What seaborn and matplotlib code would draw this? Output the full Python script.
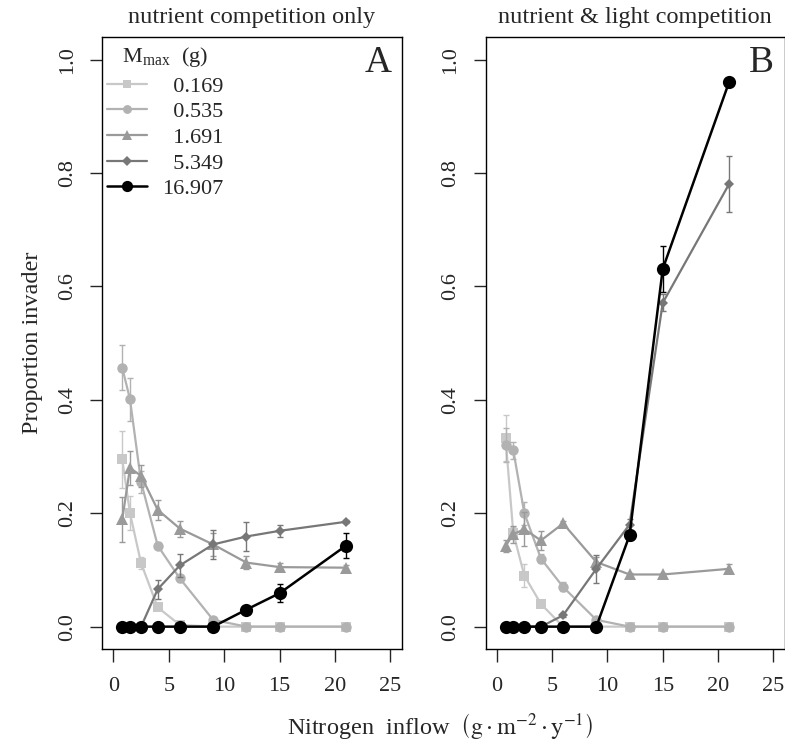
import numpy as np
import pandas as pd
import matplotlib.pyplot as plt
import seaborn as sns
from matplotlib.lines import Line2D

# nitrogen inflow levels (g m-2 y-1)
nitrogen = [0.8, 1.5, 2.5, 4, 6, 9, 12, 15, 21]
mmax_labels = ["0.169", "0.535", "1.691", "5.349", "16.907"]

# panel A: nutrient competition only
a_0169 = [0.295, 0.200, 0.112, 0.034, 0.003, 0.0, 0.0, 0.0, 0.0]
a_0535 = [0.457, 0.401, 0.255, 0.143, 0.085, 0.012, 0.0, 0.0, 0.0]
a_1691 = [0.189, 0.280, 0.266, 0.206, 0.173, 0.145, 0.113, 0.105, 0.104]
a_5349 = [0.0, 0.0, 0.0, 0.066, 0.108, 0.145, 0.159, 0.169, 0.185]
a_16907 = [0.0, 0.0, 0.0, 0.0, 0.0, 0.0, 0.030, 0.059, 0.143]
a_0169_se = [0.05, 0.03, 0.01, 0.005, 0.0, 0.0, 0.0, 0.0, 0.0]
a_0535_se = [0.04, 0.038, 0.02, 0.006, 0.006, 0.003, 0.0, 0.0, 0.0]
a_1691_se = [0.04, 0.03, 0.02, 0.018, 0.014, 0.02, 0.012, 0.007, 0.004]
a_5349_se = [0.0, 0.0, 0.0, 0.017, 0.02, 0.025, 0.025, 0.011, 0.003]
a_16907_se = [0.0, 0.0, 0.0, 0.0, 0.0, 0.0, 0.005, 0.016, 0.022]

# panel B: nutrient & light competition
b_0169 = [0.333, 0.165, 0.090, 0.040, 0.0, 0.0, 0.0, 0.0, 0.0]
b_0535 = [0.321, 0.311, 0.200, 0.120, 0.070, 0.012, 0.0, 0.0, 0.0]
b_1691 = [0.142, 0.163, 0.172, 0.152, 0.182, 0.114, 0.092, 0.092, 0.102]
b_5349 = [0.0, 0.0, 0.0, 0.0, 0.020, 0.102, 0.180, 0.571, 0.781]
b_16907 = [0.0, 0.0, 0.0, 0.0, 0.0, 0.0, 0.161, 0.631, 0.961]
b_0169_se = [0.04, 0.01, 0.02, 0.005, 0.0, 0.0, 0.0, 0.0, 0.0]
b_0535_se = [0.03, 0.015, 0.02, 0.008, 0.008, 0.003, 0.0, 0.0, 0.0]
b_1691_se = [0.01, 0.015, 0.03, 0.017, 0.005, 0.008, 0.003, 0.003, 0.008]
b_5349_se = [0.0, 0.0, 0.0, 0.0, 0.003, 0.025, 0.01, 0.015, 0.05]
b_16907_se = [0.0, 0.0, 0.0, 0.0, 0.0, 0.0, 0.008, 0.04, 0.006]

panel_titles = ["nutrient competition only", "nutrient & light competition"]
panel_letters = ["A", "B"]

# long table
rows = []
for panel, series, errs in [
    ("A", [a_0169, a_0535, a_1691, a_5349, a_16907],
     [a_0169_se, a_0535_se, a_1691_se, a_5349_se, a_16907_se]),
    ("B", [b_0169, b_0535, b_1691, b_5349, b_16907],
     [b_0169_se, b_0535_se, b_1691_se, b_5349_se, b_16907_se]),
]:
    for lab, vals, se in zip(mmax_labels, series, errs):
        for x, v, e in zip(nitrogen, vals, se):
            rows.append({"panel": panel, "mmax": lab, "nitrogen": x,
                         "proportion": v, "se": e})
df = pd.DataFrame(rows)

colors = {"0.169": "#c8c8c8", "0.535": "#b2b2b2", "1.691": "#9a9a9a",
          "5.349": "#777777", "16.907": "#000000"}
markers = {"0.169": "s", "0.535": "o", "1.691": "^", "5.349": "D", "16.907": "o"}
msizes = {"0.169": 7.2, "0.535": 7.5, "1.691": 8.5, "5.349": 5.5, "16.907": 9.5}
lwidths = {"0.169": 1.6, "0.535": 1.6, "1.691": 1.6, "5.349": 1.6, "16.907": 1.8}

sns.set_style("ticks")
plt.rcParams["font.family"] = ["Liberation Serif", "DejaVu Serif"]
plt.rcParams["mathtext.fontset"] = "stix"
fs = 16      # ticks, legend
fs_lab = 17.5  # titles, axis labels

fig = plt.figure(figsize=(7.85, 7.42), dpi=100)
ax_a = fig.add_axes([0.1303, 0.1249, 0.3812, 0.8252])
ax_b = fig.add_axes([0.6186, 0.1249, 0.3808, 0.8252])

for ax, panel, title, letter in zip([ax_a, ax_b], ["A", "B"], panel_titles, panel_letters):
    for i, lab in enumerate(mmax_labels):
        sub = df[(df["panel"] == panel) & (df["mmax"] == lab)]
        sns.lineplot(data=sub, x="nitrogen", y="proportion", color=colors[lab],
                     marker=markers[lab], markersize=msizes[lab], markeredgewidth=0,
                     linewidth=lwidths[lab], errorbar=None, legend=False, ax=ax,
                     zorder=3 + i)
        eb = sub[sub["se"] > 0]
        ax.errorbar(eb["nitrogen"], eb["proportion"], yerr=eb["se"], fmt="none",
                    ecolor=colors[lab], elinewidth=1.0, capsize=2.4, capthick=1.0,
                    zorder=3 + i)
    ax.set_xlim(-1, 26)
    ax.set_ylim(-0.04, 1.04)
    ax.set_xticks([0, 5, 10, 15, 20, 25])
    ax.set_yticks([0.0, 0.2, 0.4, 0.6, 0.8, 1.0])
    ax.set_yticklabels(["0.0", "0.2", "0.4", "0.6", "0.8", "1.0"], rotation=90, va="center")
    ax.tick_params(axis="both", direction="out", length=9, width=1.0, labelsize=fs)
    ax.tick_params(axis="x", pad=11)
    ax.tick_params(axis="y", pad=9)
    for sp in ax.spines.values():
        sp.set_linewidth(1.0)
        sp.set_color("black")
    ax.set_xlabel("")
    ax.set_ylabel("")
    ax.set_title(title, fontsize=fs_lab, pad=10)
    ax.text(0.966, 0.9424, letter, transform=ax.transAxes, ha="right",
            va="baseline", fontsize=27)

ax_a.set_ylabel("Proportion invader", fontsize=fs_lab, labelpad=11)

# legend
ax_a.text(0.066, 0.9587, r"M$_\mathregular{max}$  (g)", transform=ax_a.transAxes,
          ha="left", va="baseline", fontsize=fs)
handles = [Line2D([0], [0], color=colors[lab], marker=markers[lab],
                  markersize=msizes[lab] * 0.85, markeredgewidth=0,
                  linewidth=lwidths[lab]) for lab in mmax_labels]
legend_labels = ["  " + lab if len(lab) < 6 else lab for lab in mmax_labels]
ax_a.legend(handles, legend_labels, loc="upper left", bbox_to_anchor=(0.0147, 0.9363),
            frameon=False, fontsize=fs, handlelength=1.8, handletextpad=0.7,
            labelspacing=0.23, borderpad=0, borderaxespad=0)

fig.text(0.5605, 0.0108, r"Nitrogen  inflow  $\left(\mathrm{g \cdot m^{-2} \cdot y^{-1}}\right)$",
         ha="center", va="baseline", fontsize=fs_lab)

fig.savefig("out.png", dpi=100)
